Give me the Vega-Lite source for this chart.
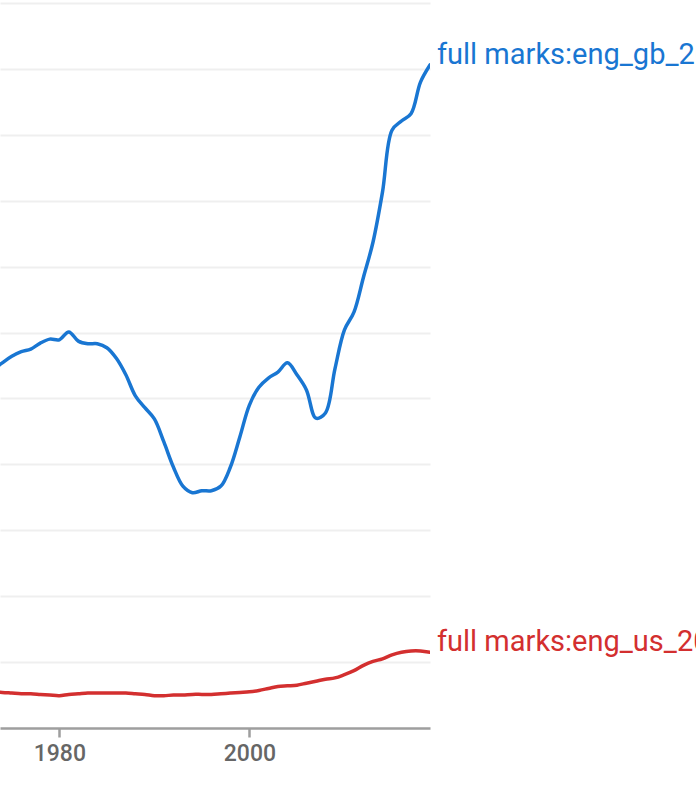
{
  "$schema": "https://vega.github.io/schema/vega-lite/v6.json",
  "width": 430,
  "height": 725,
  "autosize": {"type": "none"},
  "padding": {"left": 0, "top": 3, "right": 266, "bottom": 68},
  "background": "white",
  "config": {"view": {"stroke": null}, "font": "Roboto"},
  "datasets": {
    "series": [
      {"year": 1973, "value": 5.43, "series": "gb"},
      {"year": 1974, "value": 5.54, "series": "gb"},
      {"year": 1975, "value": 5.64, "series": "gb"},
      {"year": 1976, "value": 5.71, "series": "gb"},
      {"year": 1977, "value": 5.75, "series": "gb"},
      {"year": 1978, "value": 5.84, "series": "gb"},
      {"year": 1979, "value": 5.90, "series": "gb"},
      {"year": 1980, "value": 5.89, "series": "gb"},
      {"year": 1981, "value": 6.01, "series": "gb"},
      {"year": 1982, "value": 5.87, "series": "gb"},
      {"year": 1983, "value": 5.83, "series": "gb"},
      {"year": 1984, "value": 5.83, "series": "gb"},
      {"year": 1985, "value": 5.77, "series": "gb"},
      {"year": 1986, "value": 5.61, "series": "gb"},
      {"year": 1987, "value": 5.36, "series": "gb"},
      {"year": 1988, "value": 5.04, "series": "gb"},
      {"year": 1989, "value": 4.86, "series": "gb"},
      {"year": 1990, "value": 4.69, "series": "gb"},
      {"year": 1991, "value": 4.34, "series": "gb"},
      {"year": 1992, "value": 3.96, "series": "gb"},
      {"year": 1993, "value": 3.67, "series": "gb"},
      {"year": 1994, "value": 3.57, "series": "gb"},
      {"year": 1995, "value": 3.60, "series": "gb"},
      {"year": 1996, "value": 3.60, "series": "gb"},
      {"year": 1997, "value": 3.67, "series": "gb"},
      {"year": 1998, "value": 3.96, "series": "gb"},
      {"year": 1999, "value": 4.42, "series": "gb"},
      {"year": 2000, "value": 4.90, "series": "gb"},
      {"year": 2001, "value": 5.17, "series": "gb"},
      {"year": 2002, "value": 5.31, "series": "gb"},
      {"year": 2003, "value": 5.40, "series": "gb"},
      {"year": 2004, "value": 5.54, "series": "gb"},
      {"year": 2005, "value": 5.36, "series": "gb"},
      {"year": 2006, "value": 5.13, "series": "gb"},
      {"year": 2007, "value": 4.70, "series": "gb"},
      {"year": 2008, "value": 4.78, "series": "gb"},
      {"year": 2009, "value": 5.45, "series": "gb"},
      {"year": 2010, "value": 6.04, "series": "gb"},
      {"year": 2011, "value": 6.31, "series": "gb"},
      {"year": 2012, "value": 6.84, "series": "gb"},
      {"year": 2013, "value": 7.37, "series": "gb"},
      {"year": 2014, "value": 8.13, "series": "gb"},
      {"year": 2015, "value": 9.07, "series": "gb"},
      {"year": 2016, "value": 9.21, "series": "gb"},
      {"year": 2017, "value": 9.32, "series": "gb"},
      {"year": 2018, "value": 9.80, "series": "gb"},
      {"year": 2019, "value": 10.06, "series": "gb"},
      {"year": 1973, "value": 0.54, "series": "us"},
      {"year": 1974, "value": 0.54, "series": "us"},
      {"year": 1975, "value": 0.53, "series": "us"},
      {"year": 1976, "value": 0.52, "series": "us"},
      {"year": 1977, "value": 0.52, "series": "us"},
      {"year": 1978, "value": 0.51, "series": "us"},
      {"year": 1979, "value": 0.50, "series": "us"},
      {"year": 1980, "value": 0.49, "series": "us"},
      {"year": 1981, "value": 0.51, "series": "us"},
      {"year": 1982, "value": 0.52, "series": "us"},
      {"year": 1983, "value": 0.53, "series": "us"},
      {"year": 1984, "value": 0.53, "series": "us"},
      {"year": 1985, "value": 0.53, "series": "us"},
      {"year": 1986, "value": 0.53, "series": "us"},
      {"year": 1987, "value": 0.53, "series": "us"},
      {"year": 1988, "value": 0.52, "series": "us"},
      {"year": 1989, "value": 0.51, "series": "us"},
      {"year": 1990, "value": 0.49, "series": "us"},
      {"year": 1991, "value": 0.49, "series": "us"},
      {"year": 1992, "value": 0.50, "series": "us"},
      {"year": 1993, "value": 0.50, "series": "us"},
      {"year": 1994, "value": 0.51, "series": "us"},
      {"year": 1995, "value": 0.51, "series": "us"},
      {"year": 1996, "value": 0.51, "series": "us"},
      {"year": 1997, "value": 0.52, "series": "us"},
      {"year": 1998, "value": 0.53, "series": "us"},
      {"year": 1999, "value": 0.54, "series": "us"},
      {"year": 2000, "value": 0.55, "series": "us"},
      {"year": 2001, "value": 0.57, "series": "us"},
      {"year": 2002, "value": 0.60, "series": "us"},
      {"year": 2003, "value": 0.63, "series": "us"},
      {"year": 2004, "value": 0.64, "series": "us"},
      {"year": 2005, "value": 0.65, "series": "us"},
      {"year": 2006, "value": 0.68, "series": "us"},
      {"year": 2007, "value": 0.71, "series": "us"},
      {"year": 2008, "value": 0.74, "series": "us"},
      {"year": 2009, "value": 0.76, "series": "us"},
      {"year": 2010, "value": 0.81, "series": "us"},
      {"year": 2011, "value": 0.87, "series": "us"},
      {"year": 2012, "value": 0.95, "series": "us"},
      {"year": 2013, "value": 1.01, "series": "us"},
      {"year": 2014, "value": 1.05, "series": "us"},
      {"year": 2015, "value": 1.11, "series": "us"},
      {"year": 2016, "value": 1.15, "series": "us"},
      {"year": 2017, "value": 1.17, "series": "us"},
      {"year": 2018, "value": 1.17, "series": "us"},
      {"year": 2019, "value": 1.15, "series": "us"}
    ],
    "labels": [
      {"year": 2019, "value": 10.06, "series": "gb", "label": "full marks:eng_gb_2019"},
      {"year": 2019, "value": 1.15, "series": "us", "label": "full marks:eng_us_2019"}
    ]
  },
  "encoding": {
    "x": {
      "field": "year",
      "type": "quantitative",
      "scale": {"domain": [1973.76, 2019], "nice": false, "zero": false},
      "axis": {
        "title": null,
        "values": [1980, 2000],
        "format": "d",
        "grid": false,
        "domainColor": "#9e9e9e",
        "domainWidth": 2.5,
        "tickColor": "#9e9e9e",
        "tickWidth": 2.5,
        "tickSize": 9,
        "labelColor": "#666666",
        "labelFontSize": 23,
        "labelFontWeight": 500,
        "labelFont": "Roboto",
        "labelPadding": 5
      }
    },
    "y": {
      "field": "value",
      "type": "quantitative",
      "scale": {"domain": [0, 11], "nice": false},
      "axis": {
        "title": null,
        "values": [1, 2, 3, 4, 5, 6, 7, 8, 9, 10, 11],
        "labels": false,
        "ticks": false,
        "domain": false,
        "grid": true,
        "gridColor": "#efefef",
        "gridWidth": 2
      }
    },
    "color": {
      "field": "series",
      "type": "nominal",
      "scale": {"domain": ["gb", "us"], "range": ["#1976d2", "#d32f2f"]},
      "legend": null
    }
  },
  "layer": [
    {
      "data": {"name": "series"},
      "mark": {"type": "line", "strokeWidth": 3.5, "interpolate": "catmull-rom", "clip": true, "strokeCap": "round"}
    },
    {
      "data": {"name": "labels"},
      "mark": {"type": "text", "align": "left", "baseline": "alphabetic", "dx": 7, "dy": -1, "fontSize": 29, "font": "Roboto"},
      "encoding": {"text": {"field": "label"}}
    }
  ]
}
